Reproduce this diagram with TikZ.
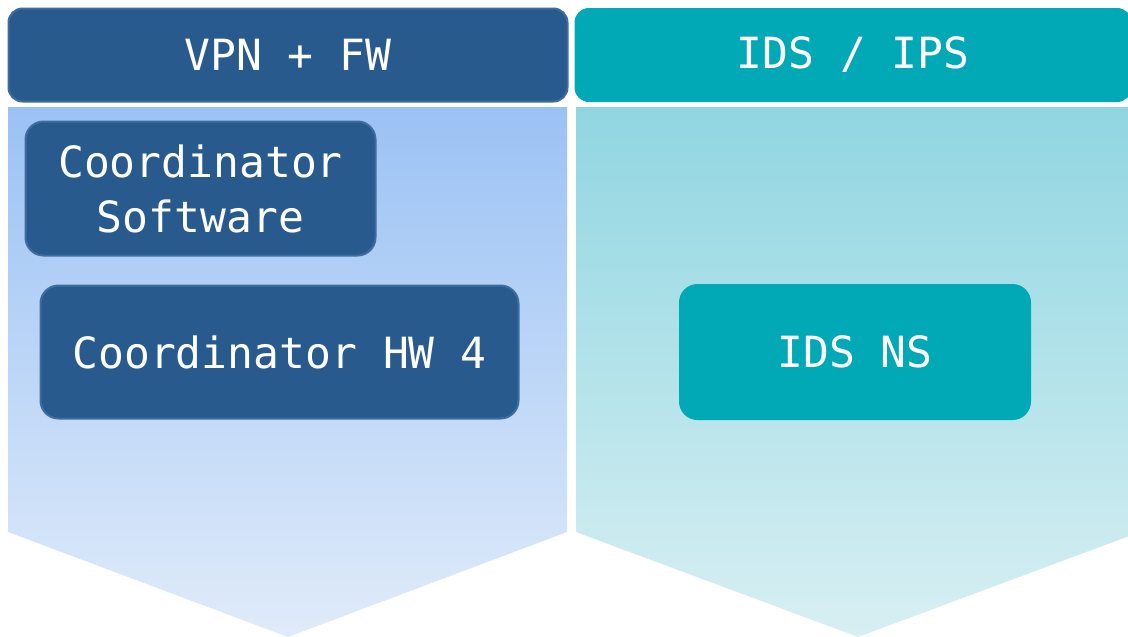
\documentclass[tikz,border=0pt]{standalone}
\usepackage{fontspec}
\setmainfont{DejaVu Sans Mono}
\definecolor{hdrblue}{HTML}{285A8D}
\definecolor{hdrblueedge}{HTML}{3E6D9F}
\definecolor{hdrteal}{HTML}{00A9B5}
\definecolor{bodyblueTop}{HTML}{9BC2F4}
\definecolor{bodyblueBot}{HTML}{E0EBFA}
\definecolor{bodytealTop}{HTML}{90D6E1}
\definecolor{bodytealBot}{HTML}{D8EFF3}
\begin{document}
\begin{tikzpicture}[x=1pt,y=-1pt,
  lbl/.style={text=white,font=\fontsize{43}{55}\selectfont,align=center,inner sep=0pt},
  bluebox/.style={lbl,fill=hdrblue,draw=hdrblueedge,line width=2pt,rounded corners=18pt},
  tealbox/.style={lbl,fill=hdrteal,draw=hdrteal,line width=1pt,rounded corners=18pt}]
\useasboundingbox (0,0) rectangle (1128,637);
% bodies (chevrons)
\shade[top color=bodyblueTop,bottom color=bodyblueBot]
  (8,107) -- (567,107) -- (567,532) -- (288,637) -- (8,532) -- cycle;
\shade[top color=bodytealTop,bottom color=bodytealBot]
  (576,107) -- (1140,107) -- (1140,532) -- (858,637) -- (576,532) -- cycle;
% headers
\node[bluebox,minimum width=559pt,minimum height=93pt,rounded corners=14pt] (vpn) at (288,55) {\raisebox{-2.5pt}{VPN + FW}};
\node[tealbox,minimum width=556pt,minimum height=93pt,rounded corners=14pt] (ids) at (853,55) {\raisebox{-2.5pt}{IDS / IPS}};
% inner boxes
\node[bluebox,minimum width=350pt,minimum height=134pt] (sw) at (200.5,188.5) {Coordinator\\Software};
\node[bluebox,minimum width=478pt,minimum height=133pt] (hw) at (279.5,352) {Coordinator HW 4};
\node[tealbox,minimum width=351pt,minimum height=135pt] (ns) at (855,352) {IDS NS};
\end{tikzpicture}
\end{document}
